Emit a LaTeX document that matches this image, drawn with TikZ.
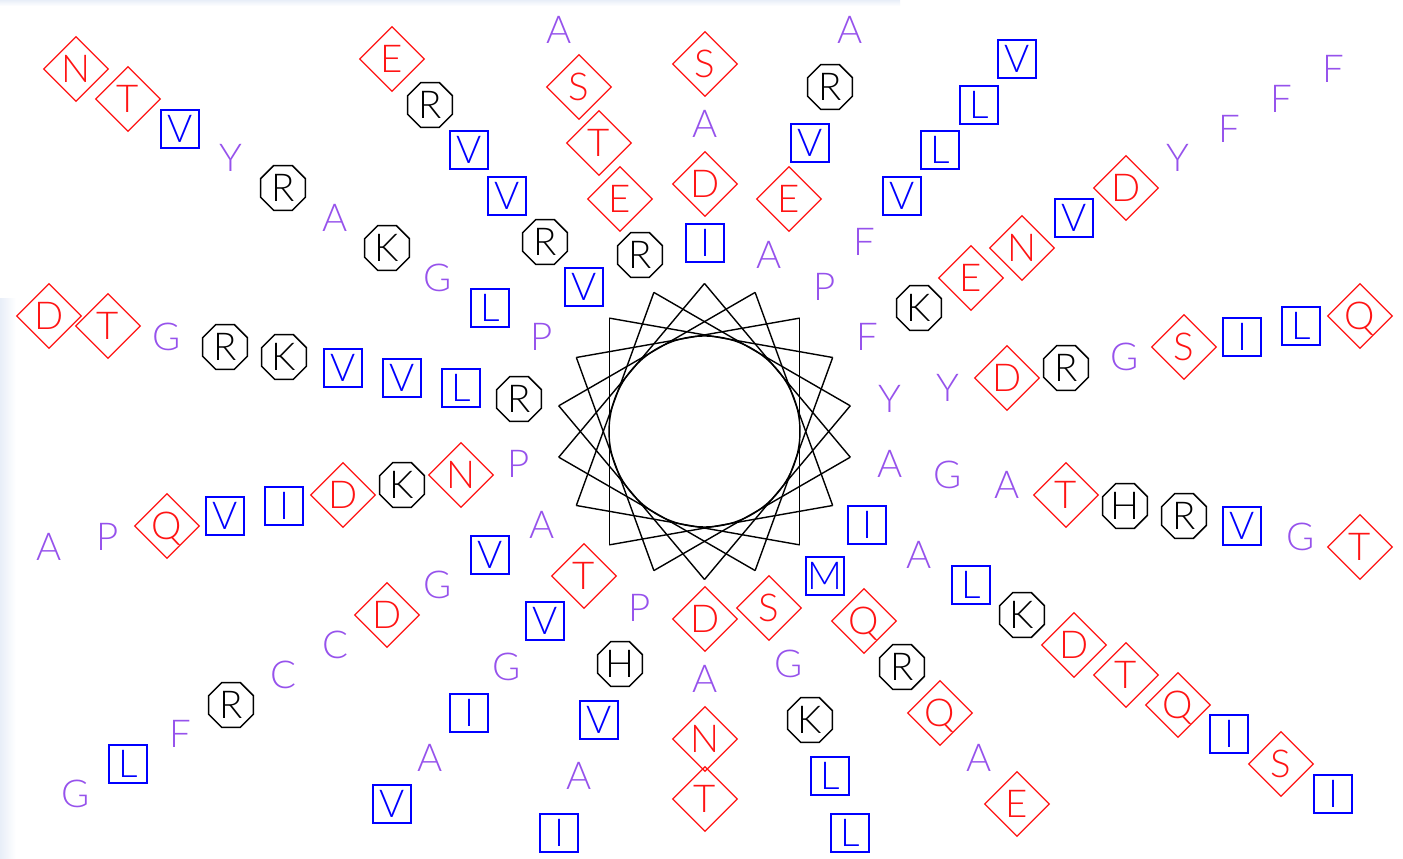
\documentclass[tikz,border=0pt]{standalone}
\usepackage{fontspec}
\IfFontExistsTF{Lato Light}{\setmainfont{Lato Light}\def\aafs{38.4}}{\setmainfont{Liberation Sans}\def\aafs{40}}
\usetikzlibrary{shapes.geometric,calc}
\definecolor{aapurple}{RGB}{150,82,236}
\definecolor{aared}{RGB}{255,20,20}
\definecolor{aablue}{RGB}{0,0,255}
\definecolor{aatint}{RGB}{232,238,248}
\begin{document}
\begin{tikzpicture}[x=1pt,y=1pt,
  lett/.style={font=\fontsize{\aafs}{\aafs}\selectfont, inner sep=0pt, text height=27.5pt, text depth=0pt},
  aaH/.style={lett, rectangle, draw=aablue, text=aablue, line width=2pt, minimum width=38pt, minimum height=38pt},
  aaC/.style={lett, diamond, aspect=1, draw=aared, text=aared, line width=1.3pt, minimum width=65pt, minimum height=65pt},
  aaP/.style={lett, regular polygon, regular polygon sides=8, draw=black, text=black, line width=1.5pt, minimum size=48.5pt},
  aaO/.style={lett, text=aapurple},
  starline/.style={draw=black, line width=1.4pt, line join=miter},
]
\useasboundingbox (0,0) rectangle (1403,859);
\fill[white] (0,0) rectangle (1403,859);
\shade[left color=aatint, right color=white] (0,0) rectangle (16,560);
\shade[top color=aatint, bottom color=white] (0,853) rectangle (900,859);
\coordinate (c) at (704.5,427.5);
% star polygon {18/5}
\foreach \k in {0,...,17} {
  \coordinate (v\k) at ($(c)+({10+20*\k}:148)$);
}
\foreach \k in {0,...,17} {
  \pgfmathtruncatemacro\j{mod(\k+5,18)}
  \draw[starline] (v\k) -- (v\j);
}
\node[circle, draw=black, line width=1.4pt, minimum size=191pt, inner sep=0pt] (hub) at (c) {};
% residues along the 18 spokes, inner to outer
\foreach \ang/\items [count=\s] in {
  90/{aaH/I,aaC/D,aaO/A,aaC/S},
  70/{aaO/A,aaC/E,aaH/V,aaP/R,aaO/A},
  50/{aaO/P,aaO/F,aaH/V,aaH/L,aaH/L,aaH/V},
  30/{aaO/F,aaP/K,aaC/E,aaC/N,aaH/V,aaC/D,aaO/Y,aaO/F,aaO/F,aaO/F},
  10/{aaO/Y,aaO/Y,aaC/D,aaP/R,aaO/G,aaC/S,aaH/I,aaH/L,aaC/Q},
  -10/{aaO/A,aaO/G,aaO/A,aaC/T,aaP/H,aaP/R,aaH/V,aaO/G,aaC/T},
  -30/{aaH/I,aaO/A,aaH/L,aaP/K,aaC/D,aaC/T,aaC/Q,aaH/I,aaC/S,aaH/I},
  -50/{aaH/M,aaC/Q,aaP/R,aaC/Q,aaO/A,aaC/E},
  -70/{aaC/S,aaO/G,aaP/K,aaH/L,aaH/L},
  -90/{aaC/D,aaO/A,aaC/N,aaC/T},
  -110/{aaO/P,aaP/H,aaH/V,aaO/A,aaH/I},
  -130/{aaC/T,aaH/V,aaO/G,aaH/I,aaO/A,aaH/V},
  -150/{aaO/A,aaH/V,aaO/G,aaC/D,aaO/C,aaO/C,aaP/R,aaO/F,aaH/L,aaO/G},
  -170/{aaO/P,aaC/N,aaP/K,aaC/D,aaH/I,aaH/V,aaC/Q,aaO/P,aaO/A},
  170/{aaP/R,aaH/L,aaH/V,aaH/V,aaP/K,aaP/R,aaO/G,aaC/T,aaC/D},
  150/{aaO/P,aaH/L,aaO/G,aaP/K,aaO/A,aaP/R,aaO/Y,aaH/V,aaC/T,aaC/N},
  130/{aaH/V,aaP/R,aaH/V,aaH/V,aaP/R,aaC/E},
  110/{aaP/R,aaC/E,aaC/T,aaC/S,aaO/A}} {
  \foreach \t/\l [count=\n] in \items {
    \pgfmathtruncatemacro\px{round(704.5+(188+59.7*(\n-1))*cos(\ang))}
    \pgfmathtruncatemacro\py{round(427.5+(188+59.7*(\n-1))*sin(\ang))}
    \node[\t] (s\s-\n) at (\px,\py) {\l};
  }
}
\end{tikzpicture}
\end{document}
